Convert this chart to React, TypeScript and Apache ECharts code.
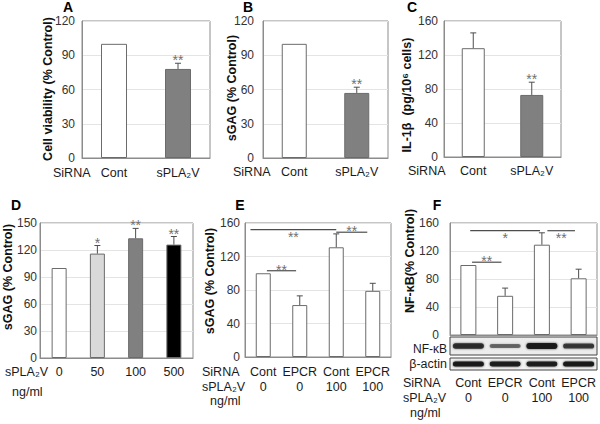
import React, { useEffect, useRef } from "react";
import * as echarts from "echarts";

// ---------- data ----------
const panelLetters = ["A", "B", "C", "D", "E", "F"];

const aCategories = ["Cont", "sPLA₂V"];
const aValues = [100, 78];
const aErrors: (number | null)[] = [null, 83];
const aStars = ["", "**"];

const bCategories = ["Cont", "sPLA₂V"];
const bValues = [100, 57];
const bErrors: (number | null)[] = [null, 62];
const bStars = ["", "**"];

const cCategories = ["Cont", "sPLA₂V"];
const cValues = [128, 73];
const cErrors: (number | null)[] = [146, 88];
const cStars = ["", "**"];

const dDoses = ["0", "50", "100", "500"];
const dValues = [100, 116, 133, 126];
const dErrors: (number | null)[] = [null, 125, 144, 135];
const dStars = ["", "*", "**", "**"];

const eSiRNA = ["Cont", "EPCR", "Cont", "EPCR"];
const eDoses = ["0", "0", "100", "100"];
const eValues = [100, 62, 131, 79];
const eErrors: (number | null)[] = [null, 73, 147, 88];
const eStars = ["", "", "", ""];
// [fromIndex, toIndex, value, label, labelSide]
const eSig: [number, number, number, string, string][] = [
  [0.1, 0.9, 103, "**", "above"],
  [-0.35, 2.0, 152, "**", "below"],
  [2.0, 2.85, 149, "**", "above"],
];

const fSiRNA = ["Cont", "EPCR", "Cont", "EPCR"];
const fDoses = ["0", "0", "100", "100"];
const fValues = [100, 56, 129, 81];
const fErrors: (number | null)[] = [null, 67, 146, 94];
const fStars = ["", "", "", ""];
const fSig: [number, number, number, string, string][] = [
  [0.1, 0.9, 104, "**", "above"],
  [0.05, 1.95, 149, "*", "below"],
  [2.15, 2.9, 149, "**", "below"],
];
const fNfkbBand = [0.8, 0.35, 1.0, 0.7];
const fActinBand = [1.0, 0.95, 0.95, 1.0];

const yMax = [120, 120, 160, 150, 160, 160];
const yStep = [30, 30, 40, 30, 40, 40];
const yTitles = [
  "Cell viability (% Control)",
  "sGAG (% Control)",
  "IL-1β  (pg/10⁶ cells)",
  "sGAG (% Control)",
  "sGAG (% Control)",
  "NF-κB(% Control)",
];

// ---------- styling / layout ----------
const FONT = "'Liberation Sans', Arial, Helvetica, sans-serif";
const BORDER = "#8c8c8c";
const grids = [
  { left: 82, top: 21, width: 128, height: 137 },
  { left: 263, top: 21, width: 125, height: 137 },
  { left: 444, top: 21, width: 117, height: 136 },
  { left: 40, top: 223, width: 153, height: 135 },
  { left: 245, top: 223, width: 146, height: 134 },
  { left: 450, top: 223, width: 147, height: 112 },
];
const yLabelMargin = [7, 9, 6, 3, 5, 11];
const xLabelMargin = [7.5, 6.5, 6.5, 6.5, 7.5, 40.5];
const barWidths = [26, 25, 23, 15, 15, 16];
const titlePos = [
  [48, 89], [232, 88], [407, 95], [8, 277], [210, 281], [410, 261],
];
const letterPos = [
  [68, 7], [248, 7], [412, 7], [16, 205], [240, 205], [437, 205],
];

const barColorsAll = [
  ["#ffffff", "#808080"],
  ["#ffffff", "#808080"],
  ["#ffffff", "#808080"],
  ["#ffffff", "#d9d9d9", "#808080", "#000000"],
  ["#ffffff", "#ffffff", "#ffffff", "#ffffff"],
  ["#ffffff", "#ffffff", "#ffffff", "#ffffff"],
];

function errSeries(i: number, values: number[], errors: (number | null)[], stars: string[]) {
  return {
    type: "custom",
    xAxisIndex: i,
    yAxisIndex: i,
    z: 5,
    silent: true,
    data: values.map((v, k) => [k, v, errors[k] == null ? v : errors[k]]),
    encode: { x: 0, y: [1, 2] },
    renderItem: (params: any, api: any) => {
      const k = params.dataIndex;
      const hasErr = errors[k] != null;
      const p0 = api.coord([k, values[k]]);
      const p1 = api.coord([k, hasErr ? (errors[k] as number) : values[k]]);
      const children: any[] = [];
      if (hasErr) {
        children.push({
          type: "line",
          shape: { x1: p0[0], y1: p0[1], x2: p1[0], y2: p1[1] },
          style: { stroke: "#4d4d4d", lineWidth: 1 },
        });
        children.push({
          type: "line",
          shape: { x1: p1[0] - 3, y1: p1[1], x2: p1[0] + 3, y2: p1[1] },
          style: { stroke: "#4d4d4d", lineWidth: 1 },
        });
      }
      if (stars[k]) {
        children.push({
          type: "text",
          x: p1[0],
          y: p1[1] + 4,
          style: {
            text: stars[k],
            align: "center",
            verticalAlign: "bottom",
            fontSize: 14,
            fontFamily: FONT,
            fill: "#707070",
          },
        });
      }
      return { type: "group", children };
    },
  };
}

function sigSeries(i: number, sig: [number, number, number, string, string][]) {
  return {
    type: "custom",
    xAxisIndex: i,
    yAxisIndex: i,
    z: 6,
    silent: true,
    data: sig.map((s) => [0, s[2]]),
    encode: { x: 0, y: 1 },
    renderItem: (params: any, api: any) => {
      const s = sig[params.dataIndex];
      const base = api.coord([0, s[2]]);
      const w = api.size([1, 0])[0];
      const x1 = base[0] + s[0] * w;
      const x2 = base[0] + s[1] * w;
      const y = base[1];
      return {
        type: "group",
        children: [
          {
            type: "line",
            shape: { x1, y1: y, x2, y2: y },
            style: { stroke: "#4d4d4d", lineWidth: 1.2 },
          },
          {
            type: "text",
            x: (x1 + x2) / 2,
            y: s[4] === "above" ? y + 6 : y + 14,
            style: {
              text: s[3],
              align: "center",
              verticalAlign: "bottom",
              fontSize: 14,
              fontFamily: FONT,
              fill: "#707070",
            },
          },
        ],
      };
    },
  };
}

function bandSeries(i: number, bands: number[], offsetY: number, heightBase: number) {
  return {
    type: "custom",
    xAxisIndex: i,
    yAxisIndex: i,
    z: 6,
    silent: true,
    clip: false,
    data: bands.map((b, k) => [k, 0, b]),
    encode: { x: 0, y: 1 },
    renderItem: (params: any, api: any) => {
      const k = params.dataIndex;
      const b = bands[k];
      const p = api.coord([k, 0]);
      const h = heightBase * (0.5 + 0.5 * b);
      const w = 31;
      return {
        type: "rect",
        shape: { x: p[0] - w / 2, y: p[1] + offsetY - h / 2, width: w, height: h, r: h / 2 },
        style: {
          fill: `rgba(20,20,20,${0.3 + 0.65 * b})`,
          shadowBlur: 2,
          shadowColor: `rgba(20,20,20,${0.3 + 0.5 * b})`,
        },
      };
    },
  };
}

export default function App() {
  const ref = useRef<HTMLDivElement>(null);

  useEffect(() => {
    if (!ref.current) return;
    const chart = echarts.init(ref.current, null, { renderer: "svg" });

    const cats = [aCategories, bCategories, cCategories, dDoses, eSiRNA, fSiRNA];
    const secondLine: (string[] | null)[] = [null, null, null, null, eDoses, fDoses];
    const vals = [aValues, bValues, cValues, dValues, eValues, fValues];
    const errs = [aErrors, bErrors, cErrors, dErrors, eErrors, fErrors];
    const stars = [aStars, bStars, cStars, dStars, eStars, fStars];

    const xAxes = cats.map((c, i) => ({
      type: "category",
      gridIndex: i,
      data: c,
      axisTick: { show: false },
      axisLine: { lineStyle: { color: BORDER, width: 1 } },
      axisLabel: {
        interval: 0,
        margin: xLabelMargin[i],
        fontSize: 12.5,
        lineHeight: 15,
        color: "#1a1a1a",
        fontFamily: FONT,
        formatter: (v: string, idx: number) =>
          secondLine[i] ? v + "\n" + (secondLine[i] as string[])[idx] : v,
      },
    }));

    const yAxes = yMax.map((m, i) => ({
      type: "value",
      gridIndex: i,
      min: 0,
      max: m,
      interval: yStep[i],
      axisLine: { show: true, lineStyle: { color: BORDER, width: 1 } },
      axisTick: { show: false },
      axisLabel: {
        margin: yLabelMargin[i],
        fontSize: 12,
        color: "#333",
        fontFamily: FONT,
      },
      splitLine: { lineStyle: { color: "#e4e4e4", width: 1 } },
    }));

    const series: any[] = [];
    vals.forEach((v, i) => {
      series.push({
        type: "bar",
        xAxisIndex: i,
        yAxisIndex: i,
        barWidth: barWidths[i],
        silent: true,
        data: v.map((val, k) => ({
          value: val,
          itemStyle: { color: barColorsAll[i][k], borderColor: "#6b6b6b", borderWidth: 1 },
        })),
      });
      series.push(errSeries(i, v, errs[i], stars[i]));
    });
    series.push(sigSeries(4, eSig));
    series.push(sigSeries(5, fSig));
    series.push(bandSeries(5, fNfkbBand, 11, 6));
    series.push(bandSeries(5, fActinBand, 29, 5));

    const txt = (text: string, x: number, y: number, extra: any = {}) => ({
      type: "text",
      x,
      y,
      style: {
        text,
        fontSize: 12.5,
        fontFamily: FONT,
        fill: "#1a1a1a",
        align: "left",
        verticalAlign: "middle",
        ...extra,
      },
    });

    const graphics: any[] = [];
    yTitles.forEach((t, i) => {
      graphics.push({
        type: "text",
        x: titlePos[i][0],
        y: titlePos[i][1],
        rotation: Math.PI / 2,
        style: {
          text: t,
          fontSize: 12.5,
          fontWeight: "bold",
          fontFamily: FONT,
          fill: "#111",
          align: "center",
          verticalAlign: "middle",
        },
      });
    });
    panelLetters.forEach((l, i) => {
      graphics.push(
        txt(l, letterPos[i][0], letterPos[i][1], {
          fontSize: 14,
          fontWeight: "bold",
          align: "center",
          fill: "#000",
        })
      );
    });
    // row labels
    graphics.push(txt("SiRNA", 53, 173));
    graphics.push(txt("SiRNA", 233, 172));
    graphics.push(txt("SiRNA", 408, 171));
    graphics.push(txt("sPLA₂V", 5, 372));
    graphics.push(txt("ng/ml", 12, 392));
    graphics.push(txt("SiRNA", 202, 372));
    graphics.push(txt("sPLA₂V", 202, 387));
    graphics.push(txt("ng/ml", 210, 401));
    graphics.push(txt("SiRNA", 403, 383));
    graphics.push(txt("sPLA₂V", 403, 398));
    graphics.push(txt("ng/ml", 410, 413));
    // blot boxes
    graphics.push({
      type: "rect",
      z: 1,
      shape: { x: 450, y: 337, width: 147, height: 18 },
      style: { fill: "#ececec", stroke: "#444", lineWidth: 1 },
    });
    graphics.push({
      type: "rect",
      z: 1,
      shape: { x: 450, y: 358, width: 147, height: 12 },
      style: { fill: "#f2f2f2", stroke: "#444", lineWidth: 1 },
    });
    graphics.push(txt("NF-κB", 447, 348.5, { align: "right", fontSize: 12 }));
    graphics.push(txt("β-actin", 447, 364, { align: "right", fontSize: 12.5 }));

    chart.setOption({
      animation: false,
      backgroundColor: "#ffffff",
      textStyle: { fontFamily: FONT },
      grid: grids.map((g) => ({
        ...g,
        show: true,
        borderColor: BORDER,
        borderWidth: 1,
        backgroundColor: "transparent",
        containLabel: false,
      })),
      xAxis: xAxes,
      yAxis: yAxes,
      series,
      graphic: graphics,
    });

    return () => chart.dispose();
  }, []);

  return (
    <div
      ref={ref}
      style={{ position: "absolute", left: 0, top: 0, width: 600, height: 424 }}
    />
  );
}
